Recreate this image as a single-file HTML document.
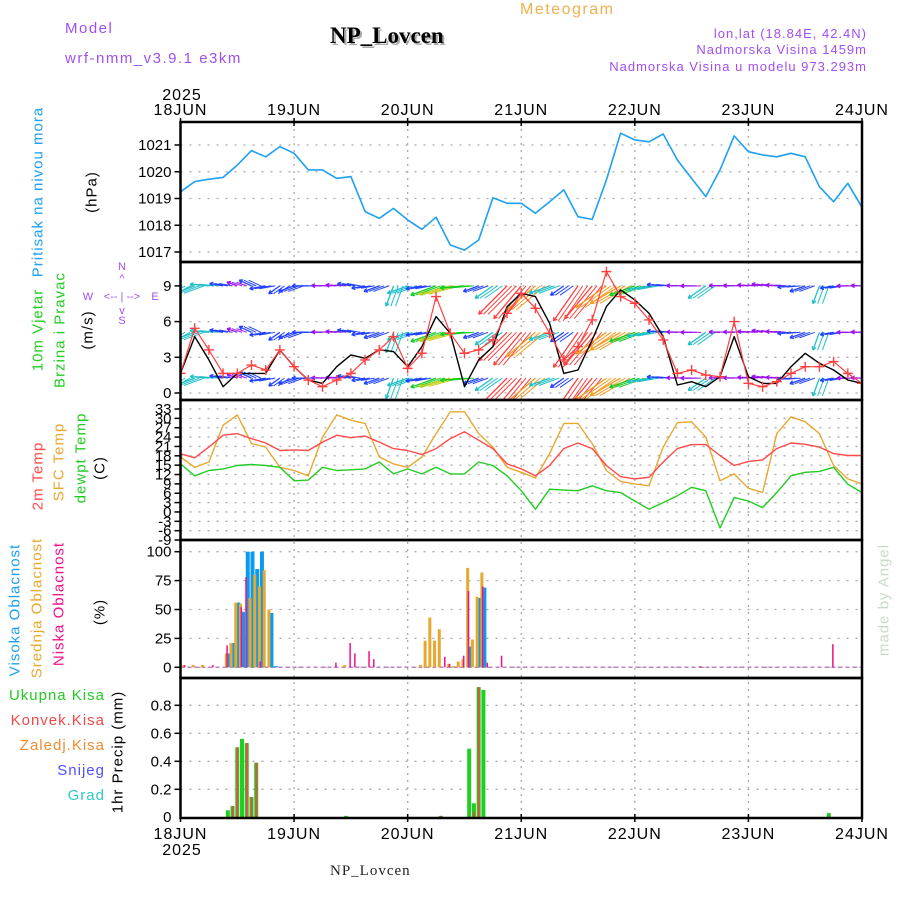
<!DOCTYPE html>
<html><head><meta charset="utf-8"><style>
html,body{margin:0;padding:0;background:#fff}
svg{display:block;font-family:"Liberation Sans",sans-serif}
</style></head><body>
<svg id="chart" width="900" height="900" viewBox="0 0 900 900" xmlns="http://www.w3.org/2000/svg">
<defs><clipPath id="windclip"><rect x="180" y="262" width="682" height="138"/></clipPath></defs>
<g id="hdr">
<text x="65" y="33" fill="#a050f0" font-size="15" letter-spacing="1.5">Model</text>
<text x="65" y="63" fill="#a050f0" font-size="15" letter-spacing="1.5">wrf-nmm_v3.9.1  e3km</text>
<text x="332" y="45" fill="#aaa" font-size="23" font-weight="bold" font-family="Liberation Serif, serif">NP_Lovcen</text>
<text x="330" y="43" fill="#000" font-size="23" font-weight="bold" font-family="Liberation Serif, serif">NP_Lovcen</text>
<text x="520" y="14" fill="#f0b050" font-size="16" letter-spacing="1.5">Meteogram</text>
<text x="867" y="38" text-anchor="end" fill="#a050f0" font-size="13" letter-spacing="1">lon,lat (18.84E, 42.4N)</text>
<text x="867" y="54" text-anchor="end" fill="#a050f0" font-size="13" letter-spacing="1">Nadmorska Visina 1459m</text>
<text x="867" y="71" text-anchor="end" fill="#a050f0" font-size="13" letter-spacing="1">Nadmorska Visina u modelu 973.293m</text>
<text x="330" y="875" fill="#222" font-size="15" font-family="Liberation Serif, serif" letter-spacing="1">NP_Lovcen</text>
<text transform="rotate(-90 884 600)" x="884" y="600" text-anchor="middle" dominant-baseline="central" fill="#c8dcc8" font-size="15" letter-spacing="1">made by Angel</text>
</g>
<g id="labels"></g>
<g id="grid"></g>
<g id="windmarks" clip-path="url(#windclip)"></g>
<g id="marks"></g>
<g id="frame"></g>
</svg>
<script>
// ---- data (3-hourly, t = 0..144 h from 18 JUN 00Z) ----
const hours3 = [0,3,6,9,12,15,18,21,24,27,30,33,36,39,42,45,48,51,54,57,60,63,66,69,72,75,78,81,84,87,90,93,96,99,102,105,108,111,114,117,120,123,126,129,132,135,138,141,144];
const pressure = [1019.25,1019.63,1019.72,1019.79,1020.25,1020.79,1020.56,1020.94,1020.69,1020.07,1020.07,1019.75,1019.82,1018.51,1018.26,1018.63,1018.20,1017.85,1018.30,1017.26,1017.07,1017.45,1019.03,1018.82,1018.82,1018.45,1018.88,1019.32,1018.32,1018.22,1019.69,1021.44,1021.19,1021.12,1021.41,1020.44,1019.75,1019.07,1020.07,1021.34,1020.75,1020.63,1020.56,1020.69,1020.56,1019.44,1018.88,1019.57,1018.67];
const windSpeed = [1.65,4.74,2.78,0.53,1.65,1.65,1.65,3.62,2.21,1.09,0.81,2.21,3.2,2.92,3.62,3.48,2.21,3.9,6.42,5.02,0.53,2.78,3.9,7.26,8.38,8.1,5.86,1.65,1.93,4.46,7.26,8.66,7.82,6.7,4.74,0.67,0.95,0.53,1.37,4.74,1.37,0.81,0.81,2.21,3.34,2.5,1.93,1.09,0.81];
const windGust = [1.65,5.44,3.62,1.65,1.65,2.35,1.93,3.62,2.21,1.09,0.53,1.09,1.65,2.78,3.62,4.74,2.07,3.34,8.1,5.02,3.34,3.62,4.46,6.7,8.38,7.12,5.02,2.78,3.9,6.14,10.2,8.1,7.54,6.14,4.46,1.65,1.93,1.51,1.37,6.0,0.81,0.53,0.95,1.65,2.21,2.21,2.64,1.65,0.81];
const arrowSpeed = [3.5,3.5,3,2,1.5,2,2.5,2,2.5,2.5,1.5,1.5,2,2,2.5,3.5,3.5,2.5,4.5,5.5,4,2.5,3.5,7,7.5,6.5,3.5,2.5,7.5,7.5,6.5,6,4.5,3.5,2.5,1.5,1.5,3.5,1.5,1.5,1.5,1.5,1.5,2,2.5,3,2,1.5,1.5];
const arrowDir = [210,200,175,170,160,155,190,215,200,180,178,175,170,190,200,250,200,190,200,195,185,200,215,225,230,220,200,215,235,230,215,210,200,190,175,178,180,215,178,178,175,170,175,185,200,250,190,180,178];
const arrowLevels = [9.0,5.1,1.25];
const temp2m = [18.65,17.36,20.8,24.6,25.1,23.5,22.1,19.7,19.9,19.7,22.4,24.6,23.8,24.3,22.4,20.3,19.7,18.4,20.3,23.5,25.7,23.0,20.3,15.4,13.8,11.6,14.9,20.3,22.1,20.3,14.9,11.3,10.6,11.1,16.0,20.3,21.6,21.6,18.1,14.9,16.2,16.7,20.3,22.1,21.7,20.8,18.7,18.1,18.1];
const tempSfc = [17.6,14.3,16.0,27.8,31.1,21.9,20.8,14.3,13.3,11.6,24.0,31.1,29.4,28.4,17.6,15.4,14.3,17.6,25.1,32.1,32.1,25.1,20.8,14.3,12.7,10.9,18.7,28.4,28.4,21.9,13.3,9.8,9.0,8.4,20.8,28.6,28.9,24.0,10.0,12.2,7.6,6.2,25.1,30.5,28.9,25.1,14.9,10.6,9.0];
const tempDew = [15.4,11.6,13.3,13.8,14.9,15.2,14.9,14.3,10.0,10.2,14.3,13.3,13.5,13.8,16.0,12.2,13.8,12.2,14.3,12.2,12.2,16.0,14.9,11.6,6.8,0.9,7.3,7.0,6.8,8.4,6.8,6.2,3.5,0.9,3.0,5.2,7.9,6.8,-5.1,4.6,3.5,1.4,6.2,11.6,12.7,13.0,14.3,8.9,6.2];
const cloudHours = [1,3,5,7,10,11,12,13,14,15,16,17,18,19,20,33,35,36,37,40,41,51,52,53,54,55,56,57,58,59,60,61,62,63,64,65,68,110,138];
const cloudHigh = [0,0,0,0,12,21,56,48,100,100,85,100,0,47,1,0,0,0,0,0,0,0,0,0,0,0,0,0,0,0,0,18,0,60,69,0,0,0,0];
const cloudMid = [2,2,2,0,12,21,56,55,0,60,80,70,84,50,0,0,2,0,0,0,0,2,23,43,23,33,0,3,1,5,7,86,24,61,82,0,0,0,0];
const cloudLow = [2,0,0,2,19,0,0,52,78,0,0,5,0,0,0,4,0,21,12,14,7,0,0,0,0,0,9,3,0,0,10,66,0,0,70,4,10,1,20];
const precipHours = [10,11,12,13,14,15,16,35,55,61,62,63,64,137];
const precipTotal = [0.05,0.08,0.50,0.56,0.53,0.145,0.39,0.01,0.01,0.49,0.10,0.93,0.91,0.03];
const precipConv = [0,0.08,0.50,0,0.53,0.145,0.39,0,0.01,0,0.04,0.93,0,0];
const dayLabels = ["18JUN","19JUN","20JUN","21JUN","22JUN","23JUN","24JUN"];
const pTicks = [1017,1018,1019,1020,1021];
const wTicks = [0,3,6,9];
const tTicks = [33,30,27,24,21,18,15,12,9,6,3,0,-3,-6,-9];
const cTicks = [0,25,50,75,100];
const rTicks = [0.2,0.4,0.6,0.8];

// ---- axes ----
const NS = "http://www.w3.org/2000/svg";
const X0 = 180.5, X1 = 862, DAYPX = (X1 - X0) / 6;
const X = t => X0 + t * DAYPX / 24;
const yP = v => 145 + (1021 - v) * 26.75;
const yW = v => 393 - v * 11.9;
const yT = v => 409 + (33 - v) * 3.12;
const yC = v => 667.3 - v * 1.156;
const yR = v => 817.3 - v * 140;
const panels = [[122,262],[262,400],[400,540],[540,678],[678,818]];

function el(tag, attrs, parent, text) {
  const e = document.createElementNS(NS, tag);
  for (const k in attrs) e.setAttribute(k, attrs[k]);
  if (text !== undefined) e.textContent = text;
  parent.appendChild(e);
  return e;
}
const G = document.getElementById("grid"), M = document.getElementById("marks"),
      WM = document.getElementById("windmarks"),
      F = document.getElementById("frame"), L = document.getElementById("labels");

function hgrid(ticks, yf, fmt, name) {
  ticks.forEach(v => {
    const y = yf(v);
    const g = el("line", {x1: X0, x2: X1, y1: y, y2: y, stroke: "#aaa", "stroke-width": 1.3, "stroke-dasharray": "2 7"}, G);
    
    
    const tk = el("line", {x1: X0 - 6, x2: X0, y1: y, y2: y, stroke: "#000", "stroke-width": 1.5}, F);
    
    
    const tx = el("text", {x: X0 - 9, y: y + 5, "text-anchor": "end", "font-size": 15, fill: "#000"}, F, fmt(v));
    
    
  });
}
hgrid(pTicks, yP, v => String(v), "pressure");
hgrid(wTicks, yW, v => String(v), "wind");
hgrid(tTicks, yT, v => String(v), "temp");
hgrid(cTicks, yC, v => String(v), "cloud");
hgrid(rTicks, yR, v => v.toFixed(1), "precip");
{
  const z = el("text", {x: X0 - 9, y: 822, "text-anchor": "end", "font-size": 15}, F, "0");
  
  
}
for (let d = 1; d < 6; d++) {
  const x = X(d * 24);
  const v = el("line", {x1: x, x2: x, y1: 122, y2: 818, stroke: "#aaa", "stroke-width": 1.3, "stroke-dasharray": "2 5"}, G);
  
  
}
dayLabels.forEach((s, d) => {
  const x = X(d * 24);
  const a = el("text", {x: x, y: 115, "text-anchor": "middle", "font-size": 16, "letter-spacing": 1}, F, s);
  
  
  const b = el("text", {x: x, y: 839, "text-anchor": "middle", "font-size": 16, "letter-spacing": 1}, F, s);
  
  
  [122, 818].forEach(yy => {
    const t = el("line", {x1: x, x2: x, y1: yy - 4, y2: yy + 4, stroke: "#000", "stroke-width": 1.5}, F);
    
    
  });
});
{
  const y1 = el("text", {x: 182, y: 100, "text-anchor": "middle", "font-size": 16, "letter-spacing": 1}, F, "2025");
  
  
  const y2 = el("text", {x: 182, y: 855, "text-anchor": "middle", "font-size": 16, "letter-spacing": 1}, F, "2025");
  
  
}
panels.forEach(([a, b]) => {
  const r = el("rect", {x: X0, y: a, width: X1 - X0, height: b - a, fill: "none", stroke: "#000", "stroke-width": 2.5}, F);
  
  
});

// ---- series ----
function poly(vals, yf, color, w, name, parent) {
  const pts = vals.map((v, i) => X(hours3[i]).toFixed(1) + "," + yf(v).toFixed(1)).join(" ");
  const p = el("polyline", {points: pts, fill: "none", stroke: color, "stroke-width": w, "stroke-linejoin": "round"}, parent || M);
  
  
}
poly(pressure, yP, "#1ea0f0", 1.6, "pressure-line");

function spdColor(s) {
  if (s < 2) return "#9a10f0";
  if (s < 3) return "#2040ff";
  if (s < 4) return "#20c0c8";
  if (s < 5) return "#10cc20";
  if (s < 6) return "#c8d020";
  if (s < 7) return "#f59a20";
  return "#ff4040";
}
arrowLevels.forEach(lv => {
  const by = yW(lv);
  arrowSpeed.forEach((s, i) => {
    const x = X(hours3[i]);
    const a = arrowDir[i] * Math.PI / 180, len = 3 + s * 5.3;
    const ex = x + len * Math.cos(a), ey = by - len * Math.sin(a);
    const c = spdColor(s);
    const g = el("g", {stroke: c, "stroke-width": 1.3, fill: "none"}, WM);
    
    
    el("line", {x1: x, y1: by, x2: ex, y2: ey}, g);
    const h = 4;
    [0.5, -0.5].forEach(d => {
      el("line", {x1: ex, y1: ey, x2: ex - h * Math.cos(a + d), y2: ey + h * Math.sin(a + d)}, g);
    });
    if (i < arrowSpeed.length - 1) {
      const nx = X(hours3[i + 1]);
      for (let k = 1; k < 3; k++) {
        const xx = x + (nx - x) * k / 3;
        el("line", {x1: xx, y1: by, x2: xx + len * Math.cos(a), y2: by - len * Math.sin(a), "stroke-width": 1}, g);
      }
    }
  });
});
poly(windSpeed, yW, "#000", 1.4, "wind-speed-line", WM);
poly(windGust, yW, "#ff4040", 1.2, "wind-gust-line", WM);
windGust.forEach((v, i) => {
  const x = X(hours3[i]), y = yW(v);
  const c = el("path", {d: `M${x-5},${y}h10M${x},${y-5}v10`, stroke: "#ff4040", "stroke-width": 1.4}, WM);
  
  
});

poly(tempSfc, yT, "#e8a830", 1.4, "sfc-temp-line");
poly(temp2m, yT, "#ff4a4a", 1.4, "temp-2m-line");
poly(tempDew, yT, "#22cc22", 1.4, "dewpoint-line");

{
  const b = el("line", {x1: X0, x2: X1, y1: yC(0), y2: yC(0), stroke: "#c080c0", "stroke-width": 1.5, "stroke-dasharray": "4 3"}, M);
  
  
}
cloudHours.forEach((h, i) => {
  const x = X(h);
  if (cloudHigh[i] > 0) {
    const r = el("rect", {x: x - 1, y: yC(cloudHigh[i]), width: 4, height: yC(0) - yC(cloudHigh[i]), fill: "#0a9af0"}, M);
    
    
  }
  if (cloudMid[i] > 0) {
    const r = el("rect", {x: x - 3, y: yC(cloudMid[i]), width: 3, height: yC(0) - yC(cloudMid[i]), fill: "#e8a830"}, M);
    
    
  }
  if (cloudLow[i] > 0) {
    const r = el("rect", {x: x - 1.5, y: yC(cloudLow[i]), width: 1.5, height: yC(0) - yC(cloudLow[i]), fill: "#f0108a"}, M);
    
    
  }
});

precipHours.forEach((h, i) => {
  const x = X(h);
  const t = el("rect", {x: x - 2, y: yR(precipTotal[i]), width: 4, height: yR(0) - yR(precipTotal[i]), fill: "#22cc22"}, M);
  
  
  if (precipConv[i] > 0) {
    const c = el("rect", {x: x - 0.8, y: yR(precipConv[i]), width: 1.8, height: yR(0) - yR(precipConv[i]), fill: "#f04848"}, M);
    
    
  }
});

function vlabel(txt, x, y, color, name, size) {
  const t = el("text", {x: x, y: y, transform: `rotate(-90 ${x} ${y})`, "text-anchor": "middle", "dominant-baseline": "central", fill: color, "font-size": size || 15, "letter-spacing": 1}, L, txt);
  
  
}
vlabel("Pritisak na nivou mora", 38, 192, "#1ea0f0", "pressure-title");
vlabel("(hPa)", 92, 192, "#000", "pressure-unit");
vlabel("10m Vjetar", 38, 330, "#22cc22", "wind-title");
vlabel("Brzina i Pravac", 60, 330, "#22cc22", "wind-subtitle");
vlabel("(m/s)", 88, 330, "#000", "wind-unit");
vlabel("2m Temp", 38, 476, "#ff4a4a", "temp-2m-title");
vlabel("SFC Temp", 59, 462, "#e8a830", "sfc-temp-title");
vlabel("dewpt Temp", 81, 458, "#22cc22", "dewpoint-title");
vlabel("(C)", 100, 468, "#000", "temp-unit");
vlabel("Visoka Oblacnost", 15, 610, "#1ea0f0", "high-cloud-title");
vlabel("Srednja Oblacnost", 37, 608, "#e8a830", "mid-cloud-title");
vlabel("Niska Oblacnost", 59, 604, "#f0108a", "low-cloud-title");
vlabel("(%)", 100, 612, "#000", "cloud-unit");
vlabel("1hr Precip (mm)", 118, 752, "#000", "precip-title");
[["Ukupna  Kisa", 695, "#22cc22", "total-precip-legend"], ["Konvek.Kisa", 720, "#f04848", "convective-precip-legend"],
 ["Zaledj.Kisa", 745, "#f58a30", "freezing-rain-legend"], ["Snijeg", 770, "#5050ff", "snow-legend"], ["Grad", 795, "#30c8c8", "hail-legend"]].forEach(r => {
  const t = el("text", {x: 105, y: r[1] + 5, "text-anchor": "end", fill: r[2], "font-size": 15, "letter-spacing": 1}, L, r[0]);
  
  
});
[["N", 122, 270], ["^", 122, 282], ["W", 88, 300], ["<-- | -->", 122, 300], ["E", 155, 300], ["v", 122, 314], ["S", 122, 324]].forEach(c => {
  const t = el("text", {x: c[1], y: c[2], "text-anchor": "middle", fill: "#a050f0", "font-size": 11}, L, c[0]);
  
  
});
</script>
</body></html>
